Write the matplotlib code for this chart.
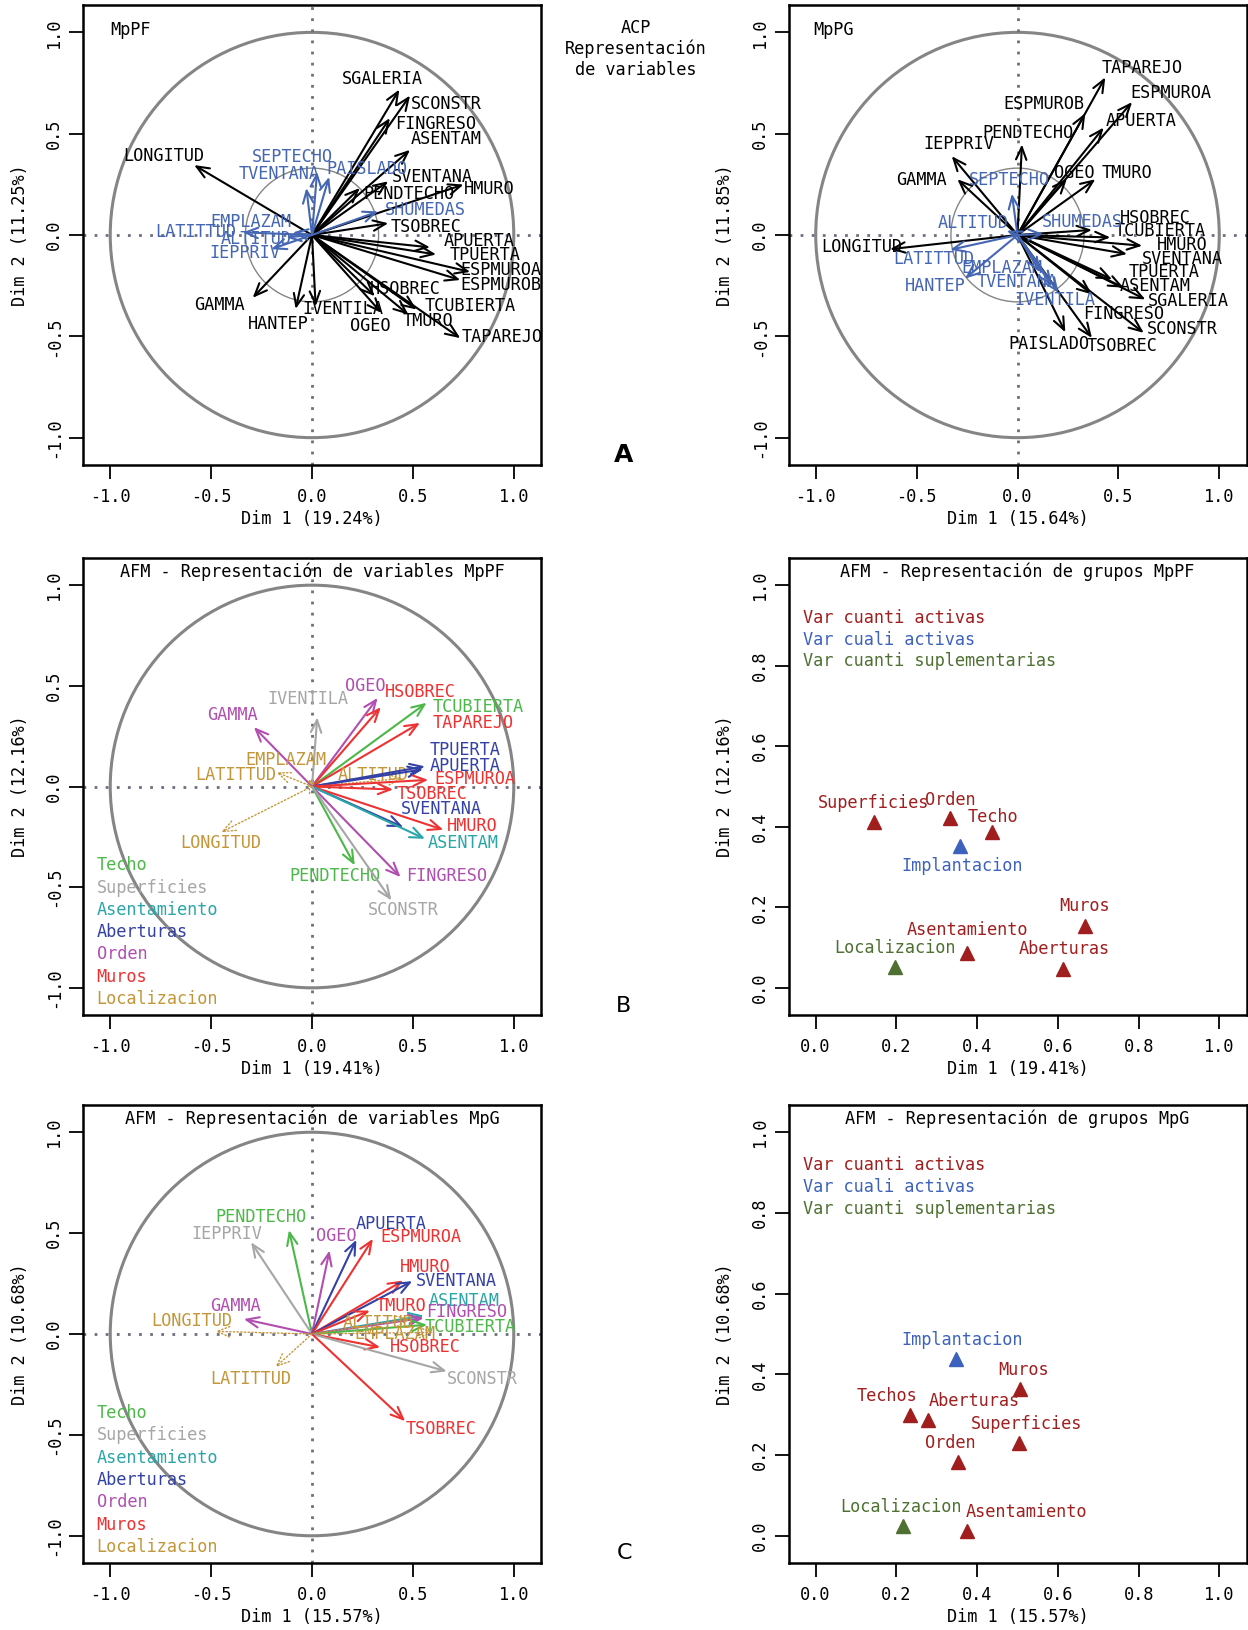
import matplotlib
matplotlib.use("Agg")
import matplotlib.pyplot as plt
from matplotlib.patches import Circle

plt.rcParams.update({
    "font.family": ["DejaVu Sans Mono", "DejaVu Sans"],
    "font.size": 12.2,
    "axes.linewidth": 1.8,
})

# ---------------------------------------------------------------- data
# ACP MpPF (panel A, left): active = black, supplementary = blue
A1_names = ["SGALERIA", "SCONSTR", "FINGRESO", "ASENTAM", "SVENTANA", "PENDTECHO", "HMURO",
            "TSOBREC", "APUERTA", "TPUERTA", "ESPMUROA", "ESPMUROB", "HSOBREC", "TCUBIERTA",
            "TMURO", "TAPAREJO", "OGEO", "IVENTILA", "HANTEP", "GAMMA", "LONGITUD",
            "SEPTECHO", "TVENTANA", "PAISLADO", "SHUMEDAS", "LATITTUD", "EMPLAZAM", "ALTITUD", "IEPPRIV"]
A1_x = [0.433, 0.486, 0.386, 0.486, 0.378, 0.237, 0.751, 0.378, 0.585, 0.615, 0.784, 0.735, 0.312, 0.519,
        0.478, 0.735, 0.345, 0.018, -0.081, -0.294, -0.584,
        0.025, -0.028, 0.085, 0.328, -0.343, -0.095, -0.128, -0.202]
A1_y = [0.718, 0.688, 0.577, 0.420, 0.265, 0.232, 0.249, 0.058, -0.061, -0.096, -0.182, -0.222, -0.302, -0.368,
        -0.393, -0.509, -0.385, -0.352, -0.365, -0.310, 0.345,
        0.312, 0.232, 0.287, 0.116, 0.013, 0.013, -0.012, -0.070]
A1_kind = ["act"] * 21 + ["sup"] * 8

# ACP MpPG (panel A, right)
A2_names = ["TAPAREJO", "ESPMUROA", "ESPMUROB", "APUERTA", "PENDTECHO", "IEPPRIV", "GAMMA", "OGEO",
            "TMURO", "HSOBREC", "TCUBIERTA", "HMURO", "SVENTANA", "TPUERTA", "ASENTAM", "SGALERIA",
            "FINGRESO", "SCONSTR", "PAISLADO", "TSOBREC", "LONGITUD",
            "SEPTECHO", "ALTITUD", "SHUMEDAS", "LATITTUD", "EMPLAZAM", "HANTEP", "TVENTANA", "IVENTILA"]
A2_x = [0.435, 0.568, 0.336, 0.427, 0.022, -0.326, -0.298, 0.245, 0.386, 0.369, 0.460, 0.618, 0.543, 0.469,
        0.526, 0.634, 0.369, 0.626, 0.237, 0.369, -0.632,
        -0.028, -0.053, 0.129, -0.334, 0.113, -0.260, 0.171, 0.204]
A2_y = [0.778, 0.656, 0.601, 0.530, 0.447, 0.389, 0.275, 0.278, 0.275, 0.025, -0.012, -0.053, -0.094, -0.219,
        -0.260, -0.318, -0.293, -0.483, -0.480, -0.508, -0.070,
        0.204, 0.022, 0.005, -0.073, -0.185, -0.215, -0.252, -0.285]
A2_kind = ["act"] * 21 + ["sup"] * 8

GROUPS = ["Techo", "Superficies", "Asentamiento", "Aberturas", "Orden", "Muros", "Localizacion"]

# AFM variables MpPF (panel B, left)
B1_names = ["OGEO", "HSOBREC", "TCUBIERTA", "TAPAREJO", "IVENTILA", "GAMMA", "EMPLAZAM", "LATITTUD",
            "ALTITUD", "TPUERTA", "APUERTA", "ESPMUROA", "TSOBREC", "SVENTANA", "HMURO", "ASENTAM",
            "FINGRESO", "PENDTECHO", "SCONSTR", "LONGITUD"]
B1_x = [0.325, 0.341, 0.568, 0.535, 0.026, -0.288, -0.020, -0.177, 0.450, 0.560, 0.550, 0.576, 0.402, 0.452,
        0.651, 0.560, 0.439, 0.212, 0.394, -0.450]
B1_y = [0.440, 0.394, 0.416, 0.316, 0.344, 0.295, 0.040, 0.071, 0.040, 0.100, 0.085, 0.033, -0.015, -0.202,
        -0.215, -0.260, -0.450, -0.392, -0.566, -0.227]
B1_group = ["Orden", "Muros", "Techo", "Muros", "Superficies", "Orden", "Localizacion", "Localizacion",
            "Localizacion", "Aberturas", "Aberturas", "Muros", "Muros", "Aberturas", "Muros", "Asentamiento",
            "Orden", "Techo", "Superficies", "Localizacion"]

# AFM variables MpG (panel C, left)
C1_names = ["PENDTECHO", "IEPPRIV", "OGEO", "APUERTA", "ESPMUROA", "HMURO", "SVENTANA", "ASENTAM", "TMURO",
            "FINGRESO", "TCUBIERTA", "ALTITUD", "EMPLAZAM", "HSOBREC", "SCONSTR", "TSOBREC", "GAMMA",
            "LONGITUD", "LATITTUD"]
C1_x = [-0.114, -0.302, 0.087, 0.220, 0.302, 0.452, 0.497, 0.554, 0.287, 0.554, 0.571, 0.488, 0.602, 0.338,
        0.668, 0.462, -0.338, -0.479, -0.182]
C1_y = [0.515, 0.455, 0.414, 0.467, 0.472, 0.265, 0.262, 0.091, 0.116, 0.080, 0.046, 0.074, 0.008, -0.066,
        -0.185, -0.432, 0.074, 0.013, -0.165]
C1_group = ["Techo", "Superficies", "Orden", "Aberturas", "Muros", "Muros", "Aberturas", "Asentamiento", "Muros",
            "Orden", "Techo", "Localizacion", "Localizacion", "Muros", "Superficies", "Muros", "Orden",
            "Localizacion", "Localizacion"]

# AFM groups MpPF (panel B, right)
B2_names = ["Superficies", "Orden", "Techo", "Implantacion", "Muros", "Asentamiento", "Aberturas", "Localizacion"]
B2_x = [0.144, 0.334, 0.437, 0.357, 0.668, 0.375, 0.613, 0.196]
B2_y = [0.411, 0.423, 0.387, 0.353, 0.153, 0.087, 0.046, 0.052]
B2_type = ["cuanti", "cuanti", "cuanti", "cuali", "cuanti", "cuanti", "cuanti", "sup"]

# AFM groups MpG (panel C, right)
C2_names = ["Implantacion", "Muros", "Techos", "Aberturas", "Superficies", "Orden", "Localizacion", "Asentamiento"]
C2_x = [0.347, 0.507, 0.234, 0.279, 0.504, 0.352, 0.216, 0.374]
C2_y = [0.437, 0.363, 0.300, 0.286, 0.230, 0.182, 0.025, 0.012]
C2_type = ["cuali", "cuanti", "cuanti", "cuanti", "cuanti", "cuanti", "sup", "cuanti"]

# ---------------------------------------------------------------- label placement
A1_lab = [(0.348, 0.768), (0.668, 0.647), (0.615, 0.547), (0.663, 0.473), (0.599, 0.287), (0.478, 0.204),
          (0.876, 0.229), (0.564, 0.038), (0.826, -0.028), (0.859, -0.100), (0.937, -0.172), (0.937, -0.249),
          (0.461, -0.265), (0.784, -0.348), (0.577, -0.426), (0.942, -0.501), (0.287, -0.448), (0.154, -0.365),
          (-0.169, -0.438), (-0.459, -0.343), (-0.735, 0.390),
          (-0.095, 0.386), (-0.161, 0.299), (0.270, 0.328), (0.561, 0.124), (-0.575, 0.017), (-0.302, 0.063),
          (-0.277, -0.020), (-0.335, -0.091)]
A2_lab = [(0.618, 0.825), (0.762, 0.700), (0.132, 0.646), (0.613, 0.563), (0.050, 0.502), (-0.293, 0.447),
          (-0.474, 0.270), (0.281, 0.308), (0.543, 0.308), (0.684, 0.083), (0.709, 0.022), (0.816, -0.050),
          (0.816, -0.119), (0.728, -0.182), (0.684, -0.252), (0.849, -0.326), (0.526, -0.392), (0.816, -0.464),
          (0.154, -0.536), (0.518, -0.550), (-0.773, -0.061),
          (-0.040, 0.270), (-0.219, 0.060), (0.320, 0.066), (-0.417, -0.119), (-0.078, -0.161), (-0.409, -0.252),
          (-0.003, -0.232), (0.187, -0.321)]
B1_lab = [(0.262, 0.498), (0.535, 0.469), (0.824, 0.394), (0.800, 0.315), (-0.020, 0.435), (-0.392, 0.353),
          (-0.131, 0.132), (-0.376, 0.055), (0.303, 0.058), (0.758, 0.179), (0.758, 0.104), (0.808, 0.038),
          (0.593, -0.036), (0.642, -0.111), (0.796, -0.197), (0.750, -0.281), (0.667, -0.447), (0.113, -0.447),
          (0.455, -0.613), (-0.450, -0.281)]
C1_lab = [(-0.251, 0.581), (-0.421, 0.497), (0.120, 0.488), (0.392, 0.543), (0.541, 0.480), (0.559, 0.331),
          (0.714, 0.262), (0.752, 0.166), (0.439, 0.137), (0.766, 0.108), (0.782, 0.033), (0.330, 0.053),
          (0.413, 0.000), (0.561, -0.063), (0.842, -0.223), (0.639, -0.470), (-0.380, 0.140), (-0.594, 0.066),
          (-0.302, -0.223)]
# offsets of group labels from their triangle, in pixels
B2_off = [(0, 19), (0, 18), (1, 15), (2, -20), (-1, 20), (0, 23), (1, 20), (0, 19)]
C2_off = [(6, 19), (3, 19), (-23, 19), (46, 19), (7, 19), (-7, 19), (-2, 19), (60, 19)]

# ---------------------------------------------------------------- styles
BLACK = "black"; BLUE_SUP = "#4466b3"
CIRCLE = "#858585"; ZERO = "#6e6e80"
GCOL = {"Techo": "#4cb848", "Superficies": "#a6a6a6", "Asentamiento": "#2aa6a8", "Aberturas": "#3341a6",
        "Orden": "#b04fb0", "Muros": "#ee3232", "Localizacion": "#c4963a"}
TCOL = {"cuanti": "#a01e1e", "cuali": "#3d62bd", "sup": "#4e7031"}
HEAD = "->,head_length=0.6,head_width=0.25"

W, H = 1248, 1630
fig = plt.figure(figsize=(W / 100, H / 100), dpi=100)


def make_ax(left_px, top_px, bottom_px, width_px=458):
    return fig.add_axes([left_px / W, 1 - bottom_px / H, width_px / W, (bottom_px - top_px) / H])


def style_axes(ax, lim, ticks, xlabel, ylabel):
    ax.set_xlim(*lim); ax.set_ylim(*lim)
    ax.set_xticks(ticks); ax.set_yticks(ticks)
    ax.set_xticklabels([f"{t:.1f}" for t in ticks])
    ax.set_yticklabels([f"{t:.1f}" for t in ticks], rotation=90, va="center")
    ax.tick_params(axis="x", direction="out", length=10, width=1.3, pad=6.5)
    ax.tick_params(axis="y", direction="out", length=10, width=1.3, pad=4.3)
    ax.set_xlabel(xlabel); ax.set_ylabel(ylabel)
    ax.xaxis.set_label_coords(0.5, -0.098)
    ax.yaxis.set_label_coords(-0.118, 0.5)


def var_panel(ax, names, xs, ys, cols, dotted, labs, xlabel, ylabel, inner=False):
    ax.add_patch(Circle((0, 0), 1, fill=False, ec=CIRCLE, lw=2.2))
    if inner:
        ax.add_patch(Circle((0, 0), 0.33, fill=False, ec=CIRCLE, lw=1.0))
    ax.axhline(0, color=ZERO, ls=(0, (1, 3)), lw=2)
    ax.axvline(0, color=ZERO, ls=(0, (1, 3)), lw=2)
    for n, x, y, c, d, (lx, ly) in zip(names, xs, ys, cols, dotted, labs):
        ax.annotate("", xy=(x, y), xytext=(0, 0),
                    arrowprops=dict(arrowstyle=HEAD, color=c, lw=1.0 if d else 1.5, ls=":" if d else "-",
                                    shrinkA=0, shrinkB=0, mutation_scale=15))
        ax.text(lx, ly, n, color=c, ha="center", va="center")
    style_axes(ax, (-1.135, 1.135), [-1.0, -0.5, 0.0, 0.5, 1.0], xlabel, ylabel)


def grp_panel(ax, names, xs, ys, types, offs, title, xlabel, ylabel):
    for n, x, y, t, (dx, dy) in zip(names, xs, ys, types, offs):
        ax.plot(x, y, marker="^", ms=10, color=TCOL[t], ls="none")
        ax.annotate(n, (x, y), xytext=(dx * 0.72, dy * 0.72), textcoords="offset points",
                    ha="center", va="center", color=TCOL[t])
    for i, (txt, t) in enumerate([("Var cuanti activas", "cuanti"), ("Var cuali activas", "cuali"),
                                  ("Var cuanti suplementarias", "sup")]):
        ax.text(0.031, 0.869 - i * 0.0475, txt, transform=ax.transAxes, color=TCOL[t], va="center")
    ax.text(0.5, 0.969, title, transform=ax.transAxes, ha="center", va="center")
    style_axes(ax, (-0.067, 1.067), [0.0, 0.2, 0.4, 0.6, 0.8, 1.0], xlabel, ylabel)


def afm_legend(ax):
    for i, g in enumerate(GROUPS):
        ax.text(-1.068, -0.392 - i * 0.1105, g, color=GCOL[g], va="center", ha="left")


# ---- row A: ACP
ax = make_ax(83, 5, 465)
var_panel(ax, A1_names, A1_x, A1_y, [BLACK if k == "act" else BLUE_SUP for k in A1_kind],
          [False] * len(A1_names), A1_lab, "Dim 1 (19.24%)", "Dim 2 (11.25%)", inner=True)
ax.text(0.059, 0.946, "MpPF", transform=ax.transAxes, va="center", ha="left")

ax = make_ax(788.5, 5, 465)
var_panel(ax, A2_names, A2_x, A2_y, [BLACK if k == "act" else BLUE_SUP for k in A2_kind],
          [False] * len(A2_names), A2_lab, "Dim 1 (15.64%)", "Dim 2 (11.85%)", inner=True)
ax.text(0.055, 0.946, "MpPG", transform=ax.transAxes, va="center", ha="left")

for yy, txt in zip([28, 49, 70], ["ACP", "Representación", "de variables"]):
    fig.text(636 / W, 1 - yy / H, txt, ha="center", va="center")
fig.text(624 / W, 1 - 455 / H, "A", ha="center", va="center", fontsize=18, fontweight="bold",
         family="DejaVu Sans")

# ---- row B: AFM MpPF
ax = make_ax(83, 558, 1015)
var_panel(ax, B1_names, B1_x, B1_y, [GCOL[g] for g in B1_group],
          [g == "Localizacion" for g in B1_group], B1_lab, "Dim 1 (19.41%)", "Dim 2 (12.16%)")
ax.text(0.5, 0.97, "AFM - Representación de variables MpPF", transform=ax.transAxes, ha="center", va="center")
afm_legend(ax)

ax = make_ax(788.5, 558, 1015)
grp_panel(ax, B2_names, B2_x, B2_y, B2_type, B2_off, "AFM - Representación de grupos MpPF",
          "Dim 1 (19.41%)", "Dim 2 (12.16%)")
fig.text(624 / W, 1 - 1006 / H, "B", ha="center", va="center", fontsize=16, family="DejaVu Sans")

# ---- row C: AFM MpG
ax = make_ax(83, 1105, 1563)
var_panel(ax, C1_names, C1_x, C1_y, [GCOL[g] for g in C1_group],
          [g == "Localizacion" for g in C1_group], C1_lab, "Dim 1 (15.57%)", "Dim 2 (10.68%)")
ax.text(0.5, 0.969, "AFM - Representación de variables MpG", transform=ax.transAxes, ha="center", va="center")
afm_legend(ax)

ax = make_ax(788.5, 1105, 1563)
grp_panel(ax, C2_names, C2_x, C2_y, C2_type, C2_off, "AFM - Representación de grupos MpG",
          "Dim 1 (15.57%)", "Dim 2 (10.68%)")
fig.text(624 / W, 1 - 1553 / H, "C", ha="center", va="center", fontsize=16, family="DejaVu Sans")

fig.savefig("out.png", dpi=100)
